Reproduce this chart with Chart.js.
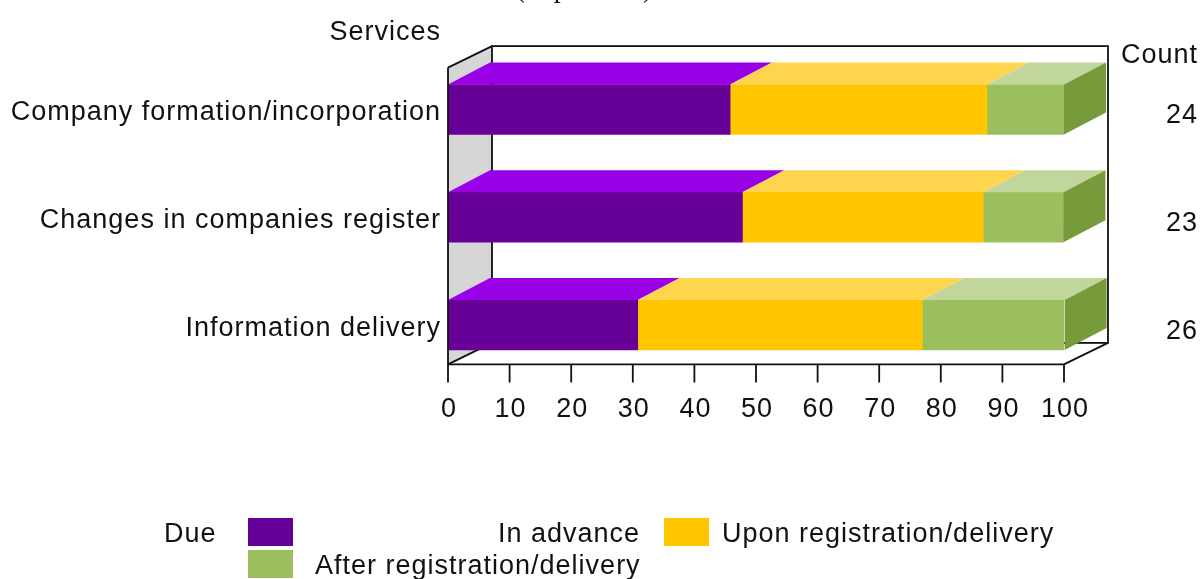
<!DOCTYPE html>
<html><head><meta charset="utf-8">
<script src="https://cdn.jsdelivr.net/npm/chart.js@4"></script>
<style>html,body{margin:0;padding:0;background:#fff;overflow:hidden}#wrap{width:1203px;height:579px;position:relative}</style>
</head><body><div id="wrap"><canvas id="c" width="1203" height="579"></canvas></div>
<script>
const categories = ["Company formation/incorporation", "Changes in companies register", "Information delivery"];
const counts = [24, 23, 26];
const inAdvance = [45.8, 47.8, 30.8];
const uponRegistration = [41.7, 39.1, 46.2];
const afterRegistration = [12.5, 13.0, 23.1];
const seriesNames = ["In advance", "Upon registration/delivery", "After registration/delivery"];
const xTicks = [0, 10, 20, 30, 40, 50, 60, 70, 80, 90, 100];
const axisTitleY = "Services";
const countTitle = "Count";
const legendTitle = "Due";
const chartTitle = "(in per cent)";

const frontColors = ["#660099", "#FFC600", "#9BBF5F"];
const topColors = ["#9A00E6", "#FFD54F", "#C0D69A"];
const sideColors = ["#4A0070", "#D9A800", "#779A3A"];
const FONT = '27px "Liberation Sans", Arial, sans-serif';
const SP = '1px';

const threeD = {
  id: 'threeD',
  beforeDatasetsDraw(chart) {
    const {ctx, chartArea: a, scales: {x}} = chart;
    const L = x.getPixelForValue(0), R = x.getPixelForValue(100);
    const fTop = a.top + 12, fBot = a.bottom - 14.5;
    const wdx = 44, wdy = -21.5;
    ctx.save();
    ctx.fillStyle = '#fff';
    ctx.fillRect(L + wdx, fTop + wdy, R - L, fBot - fTop);
    ctx.fillStyle = '#D6D6D6';
    ctx.beginPath();
    ctx.moveTo(L, fTop); ctx.lineTo(L + wdx, fTop + wdy); ctx.lineTo(L + wdx, fBot + wdy); ctx.lineTo(L, fBot);
    ctx.closePath(); ctx.fill();
    ctx.strokeStyle = '#111'; ctx.lineWidth = 1.8;
    ctx.strokeRect(L + wdx, fTop + wdy, R - L, fBot - fTop);
    ctx.beginPath();
    ctx.moveTo(L, fTop); ctx.lineTo(L + wdx, fTop + wdy);
    ctx.moveTo(L, fBot); ctx.lineTo(L + wdx, fBot + wdy);
    ctx.moveTo(R, fBot); ctx.lineTo(R + wdx, fBot + wdy);
    ctx.stroke();
    ctx.restore();
  },
  afterDatasetsDraw(chart) {
    const {ctx, chartArea: a, scales: {x, y}} = chart;
    const dx = 42, dy = -22;
    ctx.save();
    chart.data.datasets.forEach((ds, i) => {
      const meta = chart.getDatasetMeta(i);
      meta.data.forEach(el => {
        const y0 = el.y - el.height / 2, y1 = el.y + el.height / 2;
        ctx.fillStyle = topColors[i];
        ctx.beginPath();
        ctx.moveTo(el.base, y0); ctx.lineTo(el.x, y0); ctx.lineTo(el.x + dx, y0 + dy); ctx.lineTo(el.base + dx, y0 + dy);
        ctx.closePath(); ctx.fill();
        if (i === chart.data.datasets.length - 1) {
          ctx.fillStyle = sideColors[i];
          ctx.beginPath();
          ctx.moveTo(el.x, y0); ctx.lineTo(el.x + dx, y0 + dy); ctx.lineTo(el.x + dx, y1 + dy); ctx.lineTo(el.x, y1);
          ctx.closePath(); ctx.fill();
        }
      });
    });
    const L = x.getPixelForValue(0), R = x.getPixelForValue(100);
    const fTop = a.top + 12, fBot = a.bottom - 14.5;
    ctx.strokeStyle = '#111'; ctx.lineWidth = 1.8;
    ctx.beginPath();
    ctx.moveTo(L, fTop); ctx.lineTo(L, fBot + 18);
    ctx.moveTo(L, fBot); ctx.lineTo(R, fBot);
    xTicks.forEach(v => { const p = x.getPixelForValue(v); ctx.moveTo(p, fBot); ctx.lineTo(p, fBot + 18); });
    ctx.stroke();
    ctx.fillStyle = '#111';
    ctx.font = FONT;
    ctx.letterSpacing = SP;
    ctx.textAlign = 'center'; ctx.textBaseline = 'alphabetic';
    xTicks.forEach(v => ctx.fillText(String(v), x.getPixelForValue(v) + 1, fBot + 53));
    ctx.textAlign = 'right';
    categories.forEach((c, i) => ctx.fillText(c, L - 7, y.getPixelForValue(i) + 11));
    ctx.fillText(axisTitleY, L - 7, a.top - 16);
    counts.forEach((c, i) => ctx.fillText(String(c), 1198, y.getPixelForValue(i) + 14));
    ctx.fillText(countTitle, 1198, a.top + 7);
    ctx.font = '28px "Liberation Serif", serif';
    ctx.letterSpacing = '0px';
    ctx.textAlign = 'center';
    ctx.fillText(chartTitle, 584, -3);
    ctx.font = FONT; ctx.letterSpacing = SP;
    ctx.textAlign = 'left';
    ctx.fillText(legendTitle, 164, 542);
    const boxes = [[248, 518], [664, 518], [248, 550]];
    boxes.forEach((b, i) => { ctx.fillStyle = frontColors[i]; ctx.fillRect(b[0], b[1], 45, 28); });
    ctx.fillStyle = '#111';
    ctx.textAlign = 'right';
    ctx.fillText(seriesNames[0], 640, 542);
    ctx.textAlign = 'left';
    ctx.fillText(seriesNames[1], 722, 542);
    ctx.fillText(seriesNames[2], 315, 574);
    ctx.restore();
  }
};

new Chart(document.getElementById('c'), {
  type: 'bar',
  data: {
    labels: categories,
    datasets: [
      {label: seriesNames[0], data: inAdvance, backgroundColor: frontColors[0]},
      {label: seriesNames[1], data: uponRegistration, backgroundColor: frontColors[1]},
      {label: seriesNames[2], data: afterRegistration, backgroundColor: frontColors[2]}
    ]
  },
  options: {
    indexAxis: 'y',
    responsive: false,
    devicePixelRatio: 1,
    animation: false,
    datasets: {bar: {barThickness: 50, borderWidth: 0}},
    layout: {padding: {left: 448, right: 139, top: 55.6, bottom: 200.1}},
    scales: {
      x: {type: 'linear', min: 0, max: 100, stacked: true, display: false},
      y: {stacked: true, display: false}
    },
    plugins: {legend: {display: false}, tooltip: {enabled: false}}
  },
  plugins: [threeD]
});
</script>
</body></html>
